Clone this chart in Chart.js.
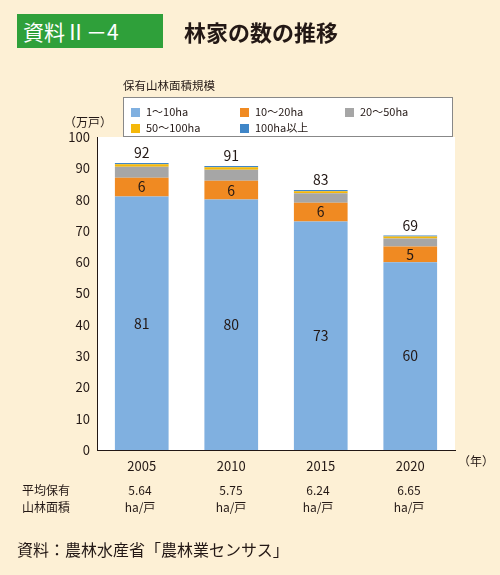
<!DOCTYPE html>
<html lang="ja">
<head>
<meta charset="UTF-8">
<script src="https://cdn.jsdelivr.net/npm/chart.js"></script>
<style>
  body { margin: 0; background: #fdf0d5; font-family: "Noto Sans CJK JP", sans-serif; }
  #wrap { position: relative; width: 500px; height: 575px; }
  canvas { position: absolute; left: 0; top: 0; }
  .abs { position: absolute; color: #231815; white-space: nowrap; }
  .sw { display: inline-block; width: 9px; height: 9px; margin-right: 6px; vertical-align: -1px; }
</style>
</head>
<body>
<div id="wrap">
  <canvas id="c" width="500" height="575"></canvas>
  <div class="abs" style="left:17px;top:14px;width:146px;height:34px;background:#2fa03a;color:#fff;font-size:21px;line-height:34px;padding-left:6px;box-sizing:border-box;">資料Ⅱ－4</div>
  <div class="abs" style="left:184px;top:15px;font-size:22px;font-weight:bold;line-height:32px;">林家の数の推移</div>
  <div class="abs" style="left:123px;top:77px;font-size:11.5px;">保有山林面積規模</div>
  <div class="abs" style="left:123px;top:97px;width:330px;height:40px;border:1px solid #888;background:#fff;box-sizing:border-box;font-size:11px;">
    <div class="abs" style="left:7px;top:5px;"><span class="sw" style="background:#80b0e0"></span>1〜10ha</div>
    <div class="abs" style="left:116px;top:5px;"><span class="sw" style="background:#f08a22"></span>10〜20ha</div>
    <div class="abs" style="left:221px;top:5px;"><span class="sw" style="background:#a6a6a6"></span>20〜50ha</div>
    <div class="abs" style="left:7px;top:21px;"><span class="sw" style="background:#f5b80a"></span>50〜100ha</div>
    <div class="abs" style="left:116px;top:21px;"><span class="sw" style="background:#3f86c8"></span>100ha以上</div>
  </div>
  <div class="abs" style="left:64px;top:113px;font-size:12px;">（万戸）</div>
  <div class="abs" style="left:458px;top:452px;font-size:12px;">（年）</div>
  <div class="abs" style="left:22px;top:481px;font-size:12px;line-height:17px;text-align:center;">平均保有<br>山林面積</div>
  <div id="avg"></div>
  <div class="abs" style="left:17px;top:537px;font-size:16px;">資料：農林水産省「農林業センサス」</div>
</div>
<script>
const years = ['2005', '2010', '2015', '2020'];
const s1to10 = [81, 80, 73, 60];
const s10to20 = [6, 6, 6, 5];
const s20to50 = [3.5, 3.5, 3, 2.6];
const s50to100 = [0.8, 0.8, 0.7, 0.6];
const s100up = [0.4, 0.4, 0.4, 0.3];
const totals = [92, 91, 83, 69];
const avgArea = ['5.64', '5.75', '6.24', '6.65'];
const yTicks = [0, 10, 20, 30, 40, 50, 60, 70, 80, 90, 100];

const avgBox = document.getElementById('avg');
const avgX = [140, 231, 318, 409];
avgArea.forEach((v, i) => {
  const d = document.createElement('div');
  d.className = 'abs';
  d.style.cssText = `left:${avgX[i] - 30}px;top:481px;width:60px;text-align:center;font-size:12px;line-height:17px;`;
  d.innerHTML = v + '<br>ha/戸';
  avgBox.appendChild(d);
});

const labelPlugin = {
  id: 'labels',
  beforeDraw(chart) {
    const a = chart.chartArea, ctx = chart.ctx;
    ctx.save();
    ctx.fillStyle = '#fff';
    ctx.fillRect(a.left, a.top, a.right - a.left, a.bottom - a.top);
    ctx.restore();
  },
  afterDatasetsDraw(chart) {
    const ctx = chart.ctx;
    ctx.save();
    ctx.font = '14px "Noto Sans CJK JP"';
    ctx.fillStyle = '#231815';
    ctx.textAlign = 'center';
    ctx.textBaseline = 'middle';
    [0, 1].forEach(di => {
      chart.getDatasetMeta(di).data.forEach((b, i) => {
        const v = chart.data.datasets[di].data[i];
        ctx.fillText(v, b.x, (b.y + b.base) / 2);
      });
    });
    const last = chart.getDatasetMeta(4).data;
    last.forEach((b, i) => ctx.fillText(totals[i], b.x, b.y - 10));
    ctx.restore();
  }
};

const axisColor = '#231815';
new Chart(document.getElementById('c'), {
  type: 'bar',
  data: {
    labels: years,
    datasets: [
      { label: '1〜10ha', data: s1to10, backgroundColor: '#80b0e0' },
      { label: '10〜20ha', data: s10to20, backgroundColor: '#f08a22' },
      { label: '20〜50ha', data: s20to50, backgroundColor: '#a6a6a6' },
      { label: '50〜100ha', data: s50to100, backgroundColor: '#f5b80a' },
      { label: '100ha以上', data: s100up, backgroundColor: '#3f86c8' }
    ]
  },
  options: {
    responsive: false,
    animation: false,
    layout: { padding: { left: 60, right: 45, top: 137, bottom: 100 } },
    datasets: { bar: { barPercentage: 0.6, categoryPercentage: 1 } },
    plugins: { legend: { display: false }, tooltip: { enabled: false } },
    scales: {
      x: {
        stacked: true,
        grid: { display: false, drawTicks: true, tickLength: 5, color: axisColor },
        border: { color: axisColor },
        ticks: { color: axisColor, font: { size: 13, family: 'Noto Sans CJK JP' } },
        afterFit: s => { s.height = 25; }
      },
      y: {
        stacked: true,
        min: 0, max: 100,
        afterBuildTicks: s => { s.ticks = yTicks.map(v => ({ value: v })); },
        grid: { display: false, drawTicks: true, tickLength: 4, color: axisColor },
        border: { color: axisColor },
        ticks: { color: axisColor, font: { size: 13, family: 'Noto Sans CJK JP' } },
        afterFit: s => { s.width = 37; }
      }
    }
  },
  plugins: [labelPlugin]
});
</script>
</body>
</html>
